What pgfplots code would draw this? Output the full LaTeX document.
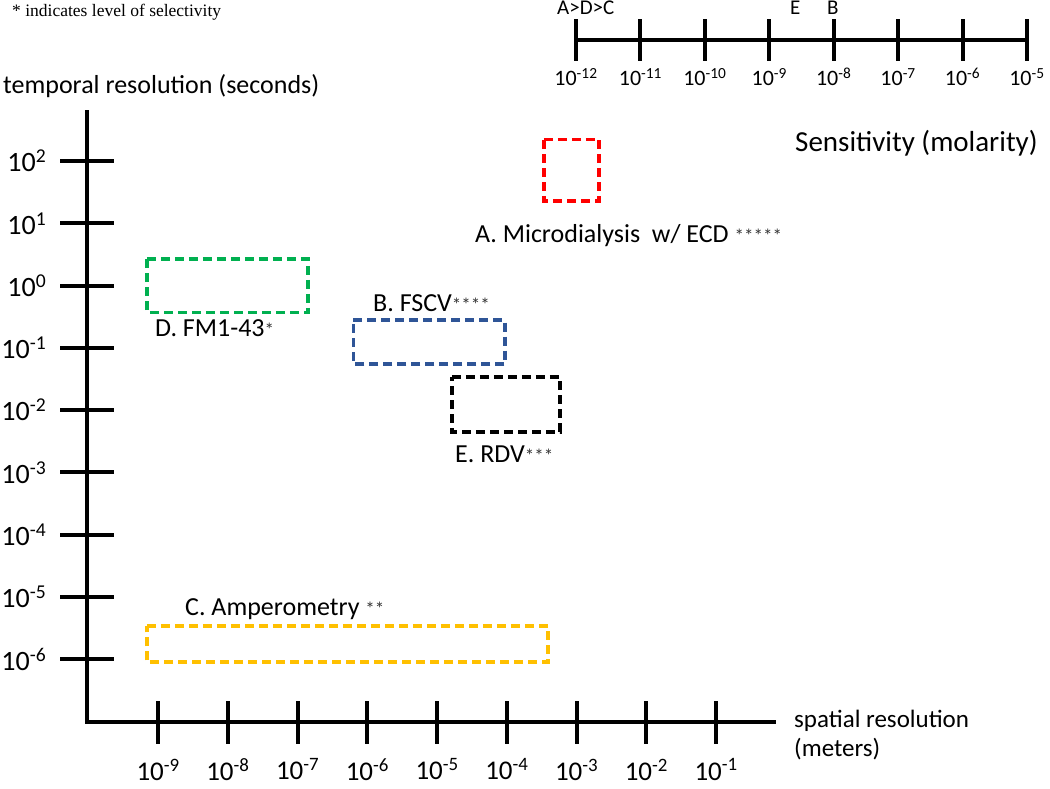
\documentclass[border=0pt]{standalone}
\usepackage{pgfplots}
\pgfplotsset{compat=1.18}
\usepackage{fontspec}
\setmainfont{Carlito}
\newfontfamily\serifont{Liberation Serif}
\definecolor{cRed}{HTML}{FF0000}
\definecolor{cGreen}{HTML}{00B050}
\definecolor{cBlue}{HTML}{2F5597}
\definecolor{cYellow}{HTML}{FFC000}
\definecolor{cStar}{HTML}{333333}
\newcommand{\fs}[1]{\fontsize{#1}{#1}\selectfont}
\newcommand{\stars}[1]{{\color{cStar}\fs{19}#1}}
\pgfplotsset{boxline/.style={line width=3.5pt, dash pattern=on 9pt off 5pt, line join=miter}}
\begin{document}
\begin{tikzpicture}
\path[use as bounding box] (0pt,0pt) rectangle (1050pt,788pt);
% ---------- main axis: x axis + boxes ----------
\begin{axis}[
  at={(87pt,66pt)}, anchor=south west, scale only axis,
  width=687pt, height=610pt,
  xmin=-10.02, xmax=-0.17, ymin=-7.01, ymax=2.79,
  axis x line=bottom, axis y line=none,
  axis line style={-, line width=4pt, line cap=rect},
  tick align=center, major tick length=43pt,
  tick style={line width=4pt, black},
  xtick={-9,-8,-7,-6,-5,-4,-3,-2,-1},
  xticklabels={10\textsuperscript{-9},10\textsuperscript{-8},10\textsuperscript{-7},10\textsuperscript{-6},10\textsuperscript{-5},10\textsuperscript{-4},10\textsuperscript{-3},10\textsuperscript{-2},10\textsuperscript{-1}},
  xticklabel style={font=\fs{27}, anchor=center, inner sep=0pt, yshift=-26pt},
  ytick=\empty,
  clip=false,
]
% A. Microdialysis
\addplot[boxline, cRed] coordinates {(-3.47,2.35) (-2.68,2.35) (-2.68,1.36) (-3.47,1.36)} -- cycle;
% D. FM1-43
\addplot[boxline, cGreen] coordinates {(-9.16,0.43) (-6.85,0.43) (-6.85,-0.43) (-9.16,-0.43)} -- cycle;
% B. FSCV
\addplot[boxline, cBlue] coordinates {(-6.20,-0.55) (-4.03,-0.55) (-4.03,-1.26) (-6.20,-1.26)} -- cycle;
% E. RDV
\addplot[boxline, black] coordinates {(-4.79,-1.47) (-3.24,-1.47) (-3.24,-2.35) (-4.79,-2.35)} -- cycle;
% C. Amperometry
\addplot[boxline, cYellow] coordinates {(-9.16,-5.47) (-3.41,-5.47) (-3.41,-6.05) (-9.16,-6.05)} -- cycle;
\end{axis}
% ---------- main axis: y axis ----------
\begin{axis}[
  at={(87pt,66pt)}, anchor=south west, scale only axis,
  width=687pt, height=610pt,
  xmin=-10.02, xmax=-0.17, ymin=-7.01, ymax=2.79,
  hide x axis, axis y line=left,
  axis line style={-, line width=4pt, line cap=rect},
  tick align=center, major tick length=53pt,
  tick style={line width=4pt, black},
  ytick={-6,-5,-4,-3,-2,-1,0,1,2},
  yticklabels={10\textsuperscript{-6},10\textsuperscript{-5},10\textsuperscript{-4},10\textsuperscript{-3},10\textsuperscript{-2},10\textsuperscript{-1},10\textsuperscript{0},10\textsuperscript{1},10\textsuperscript{2}},
  yticklabel style={font=\fs{28}, anchor=east, inner sep=0pt, xshift=-14pt},
  clip=false,
]
\end{axis}
% ---------- sensitivity axis ----------
\begin{axis}[
  at={(576pt,748pt)}, anchor=south west, scale only axis,
  width=451pt, height=20pt,
  xmin=-12, xmax=-5, ymin=0, ymax=1,
  axis x line=bottom, hide y axis,
  axis line style={-, line width=4pt},
  tick align=center, major tick length=42pt,
  tick style={line width=4pt, black},
  xtick={-12,-11,-10,-9,-8,-7,-6,-5},
  xticklabels={10\textsuperscript{-12},10\textsuperscript{-11},10\textsuperscript{-10},10\textsuperscript{-9},10\textsuperscript{-8},10\textsuperscript{-7},10\textsuperscript{-6},10\textsuperscript{-5}},
  xticklabel style={font=\fs{22}, anchor=center, inner sep=0pt, yshift=-16pt},
  clip=false,
]
\end{axis}
% ---------- texts ----------
\node[anchor=base west, inner sep=0pt, font=\serifont\fs{17.5}] at (12pt,771.5pt) {* indicates level of selectivity};
\node[anchor=base west, inner sep=0pt, font=\fs{26}] at (3pt,694pt) {temporal resolution (seconds)};
\node[anchor=base west, inner sep=0pt, font=\fs{29}] at (795pt,636pt) {Sensitivity (molarity)};
\node[anchor=base west, inner sep=0pt, font=\fs{26}] at (475pt,545pt) {A. Microdialysis\ \ w/ ECD \stars{*****}};
\node[anchor=base west, inner sep=0pt, font=\fs{26}] at (373pt,476pt) {B. FSCV\stars{****}};
\node[anchor=base west, inner sep=0pt, font=\fs{26}] at (155pt,451pt) {D. FM1-43\stars{*}};
\node[anchor=base west, inner sep=0pt, font=\fs{26}] at (455pt,325pt) {E. RDV\stars{***}};
\node[anchor=base west, inner sep=0pt, font=\fs{26}] at (185pt,173pt) {C. Amperometry \stars{**}};
\node[anchor=base west, inner sep=0pt, font=\fs{25}] at (794pt,61pt) {spatial resolution};
\node[anchor=base west, inner sep=0pt, font=\fs{25}] at (794pt,32pt) {(meters)};
\node[anchor=base west, inner sep=0pt, font=\fs{21}] at (557pt,773.5pt) {A>D>C};
\node[anchor=base west, inner sep=0pt, font=\fs{21}] at (790pt,773.5pt) {E};
\node[anchor=base west, inner sep=0pt, font=\fs{21}] at (827pt,773.5pt) {B};
\end{tikzpicture}
\end{document}
